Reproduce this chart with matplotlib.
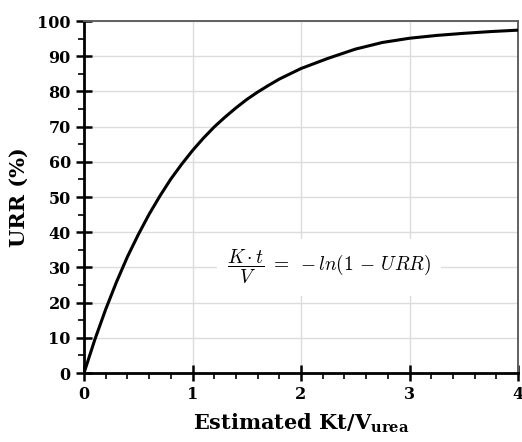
import numpy as np
import matplotlib
matplotlib.use("Agg")
import matplotlib.pyplot as plt
from matplotlib.ticker import MultipleLocator

# Values (Kt/V vs URR %)
ktv = [0.0, 0.1, 0.2, 0.3, 0.4, 0.5, 0.6, 0.7, 0.8, 0.9, 1.0,
       1.1, 1.2, 1.3, 1.4, 1.5, 1.6, 1.7, 1.8, 1.9, 2.0,
       2.25, 2.5, 2.75, 3.0, 3.25, 3.5, 3.75, 4.0]
urr = [0.0, 9.5, 18.1, 25.9, 33.0, 39.3, 45.1, 50.3, 55.1, 59.3, 63.2,
       66.7, 69.9, 72.7, 75.3, 77.7, 79.8, 81.7, 83.5, 85.0, 86.5,
       89.4, 92.0, 93.9, 95.1, 95.9, 96.5, 97.0, 97.4]

FONT = "DejaVu Serif"
plt.rcParams["font.family"] = FONT
plt.rcParams["mathtext.fontset"] = "custom"
plt.rcParams["mathtext.rm"] = FONT
plt.rcParams["mathtext.bf"] = FONT + ":bold"

fig = plt.figure(figsize=(5.22, 4.42), dpi=100)
ax = fig.add_axes([84 / 522, 69 / 442, 434 / 522, 352 / 442])

ax.plot(ktv, urr, color="black", lw=2.2, solid_capstyle="round", zorder=3)

ax.set_xlim(0, 4)
ax.set_ylim(0, 100)
ax.xaxis.set_major_locator(MultipleLocator(1))
ax.xaxis.set_minor_locator(MultipleLocator(0.2))
ax.yaxis.set_major_locator(MultipleLocator(10))
ax.yaxis.set_minor_locator(MultipleLocator(5))
ax.grid(True, which="major", color="#dcdcdc", lw=1.0, zorder=0)

ax.tick_params(which="major", direction="inout", length=11, width=1.8,
               labelsize=11.5, pad=4)
ax.tick_params(which="minor", direction="out", length=4, width=1.2)
for lab in ax.get_xticklabels() + ax.get_yticklabels():
    lab.set_fontweight("bold")

for side in ["left", "bottom"]:
    ax.spines[side].set_linewidth(2.0)
    ax.spines[side].set_color("black")
for side in ["top", "right"]:
    ax.spines[side].set_linewidth(1.4)
    ax.spines[side].set_color("#606060")

ax.set_ylabel("URR (%)", fontsize=15, fontweight="bold", labelpad=6)
ax.set_xlabel(r"Estimated Kt/V$_{\mathbf{urea}}$", fontsize=15,
              fontweight="bold", labelpad=6)

ax.text(2.26, 30, r"$\dfrac{K \cdot t}{V} \;=\; -ln(1 \,-\, URR)$", fontsize=14,
        math_fontfamily="cm", ha="center", va="center", zorder=4,
        bbox=dict(facecolor="white", edgecolor="none", pad=7))

fig.savefig("out.png", dpi=100)
